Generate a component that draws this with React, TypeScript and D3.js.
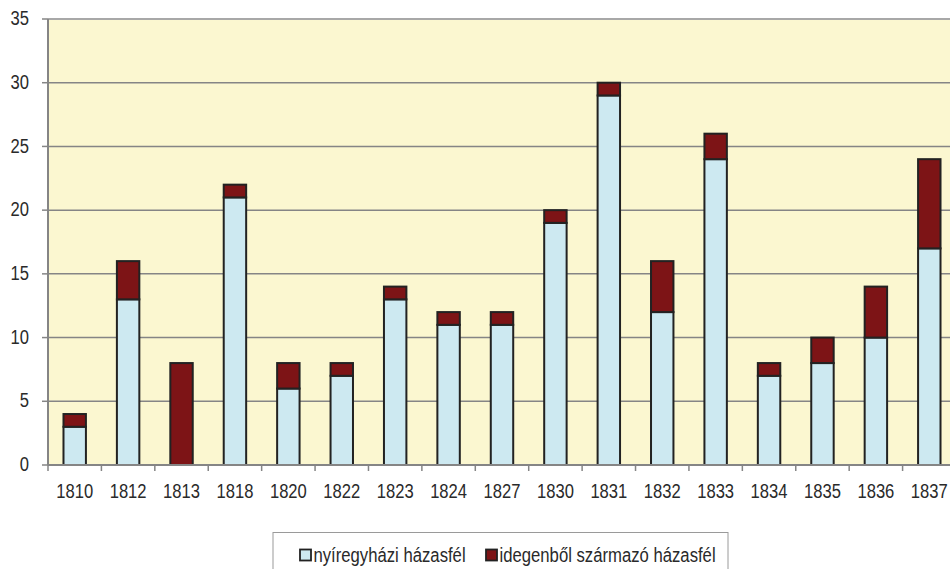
import * as d3 from "d3";

const years = [
  "1810", "1812", "1813", "1818", "1820", "1822", "1823", "1824", "1827",
  "1830", "1831", "1832", "1833", "1834", "1835", "1836", "1837",
];
const local = [3, 13, 0, 21, 6, 7, 13, 11, 11, 19, 29, 12, 24, 7, 8, 10, 17];
const foreign = [1, 3, 8, 1, 2, 1, 1, 1, 1, 1, 1, 4, 2, 1, 2, 4, 7];
const yTicks = [0, 5, 10, 15, 20, 25, 30, 35];
const seriesNames = ["nyíregyházi házasfél", "idegenből származó házasfél"];
const colors = ["#cde9f1", "#7d1416"];

const font = "'Liberation Sans', Arial, sans-serif";

// keskenyített felirat (az eredeti betű kissé összenyomott)
function Label({ x, y, anchor, size, sx, children }: { x: number; y: number; anchor: string; size: number; sx: number; children: any }) {
  return (
    <g transform={`translate(${x},${y}) scale(${sx},1)`}>
      <text x={0} y={0} textAnchor={anchor} dominantBaseline="central" fontSize={size} fill="#2a2a2a">
        {children}
      </text>
    </g>
  );
}

export default function App() {
  const width = 950;
  const height = 569;
  const left = 48;
  const right = 956;
  const top = 19;
  const bottom = 465;

  const x = d3.scaleBand().domain(years).range([left, right]).paddingInner(0.58).paddingOuter(0.29);
  const y = d3.scaleLinear().domain([0, 35]).range([bottom, top]);
  const step = x.step();

  return (
    <svg
      width={width}
      height={height}
      style={{ position: "absolute", left: 0, top: 0, background: "#fff" }}
      fontFamily={font}
    >
      <rect x={left} y={top} width={right - left} height={bottom - top} fill="#fbf7d0" />
      {/* rácsvonalak */}
      {yTicks.map((t) => (
        <g key={t}>
          {t > 0 && (
            <line x1={left} x2={right} y1={y(t)} y2={y(t)} stroke={t === 35 ? "#a8a8a8" : "#858585"} strokeWidth={t === 35 ? 2 : 1.5} />
          )}
          <line x1={left - 6} x2={left} y1={y(t)} y2={y(t)} stroke="#858585" strokeWidth={1.5} />
          <Label x={29} y={y(t) - 1} anchor="end" size={21} sx={0.79}>{t}</Label>
        </g>
      ))}
      {/* oszlopok */}
      {years.map((yr, i) => {
        const bx = x(yr)!;
        const w = x.bandwidth();
        return (
          <g key={yr}>
            {local[i] > 0 && (
              <rect x={bx} y={y(local[i])} width={w} height={y(0) - y(local[i])} fill={colors[0]} stroke="#222" strokeWidth={2} />
            )}
            <rect
              x={bx}
              y={y(local[i] + foreign[i])}
              width={w}
              height={y(local[i]) - y(local[i] + foreign[i])}
              fill={colors[1]}
              stroke="#222"
              strokeWidth={2}
            />
            <Label x={bx + w / 2} y={491} anchor="middle" size={21} sx={0.79}>{yr}</Label>
          </g>
        );
      })}
      {/* tengelyek */}
      <line x1={left} x2={left} y1={top} y2={bottom} stroke="#858585" strokeWidth={2} />
      <line x1={left} x2={right} y1={bottom} y2={bottom} stroke="#858585" strokeWidth={2} />
      {d3.range(years.length + 1).map((i) => (
        <line key={i} x1={left + i * step} x2={left + i * step} y1={bottom} y2={bottom + 6} stroke="#858585" strokeWidth={1.5} />
      ))}
      {/* jelmagyarázat */}
      <rect x={273} y={532.5} width={455} height={60} fill="#fff" stroke="#9a9a9a" strokeWidth={1} />
      {seriesNames.map((name, i) => {
        const lx = i === 0 ? 299 : 485;
        return (
          <g key={name}>
            <rect x={lx + 1} y={549.5} width={11} height={11} fill={colors[i]} stroke="#222" strokeWidth={1.8} />
            <Label x={lx + 14.5} y={555} anchor="start" size={20} sx={0.835}>{name}</Label>
          </g>
        );
      })}
    </svg>
  );
}
